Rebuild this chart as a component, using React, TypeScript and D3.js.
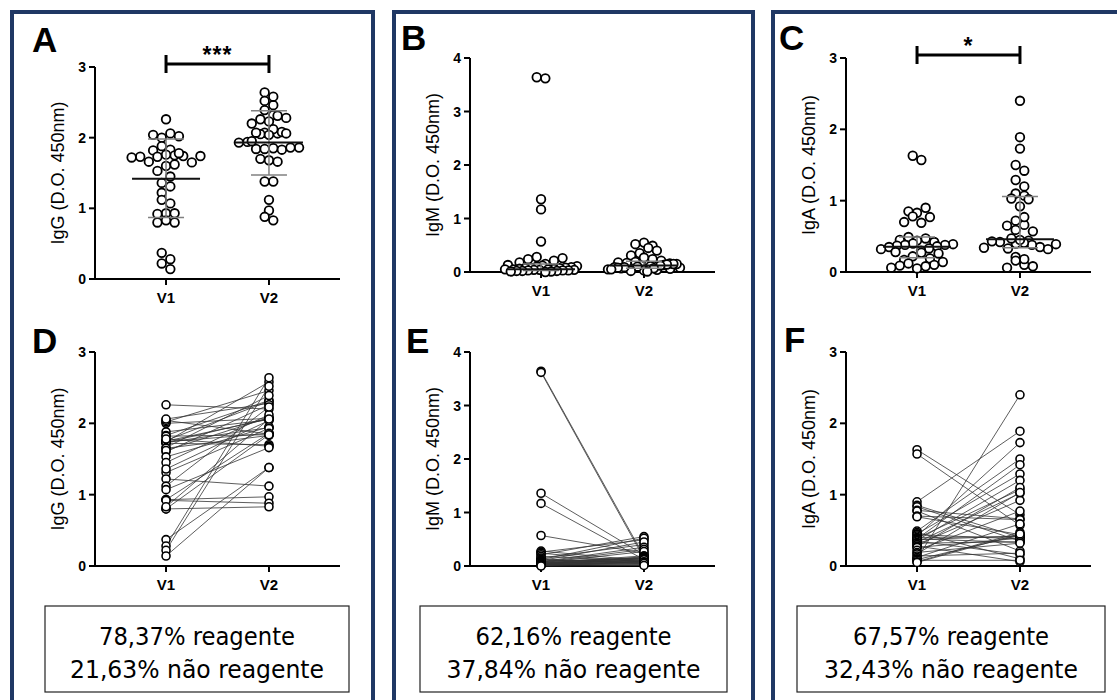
import React from "react";
import * as d3 from "d3";

const groups = ["V1", "V2"];

// IgG optical density, paired by subject (same index = same subject)
const iggV1 = [2.26, 2.0, 2.02, 2.04, 2.06, 1.88, 1.83, 1.82, 1.74, 1.73, 1.75, 1.72, 1.76, 1.74, 1.73, 1.78, 1.66, 1.65, 1.6, 1.62, 1.53, 1.45, 1.31, 1.36, 1.22, 1.12, 1.07, 0.93, 0.93, 0.92, 0.8, 0.8, 0.83, 0.37, 0.28, 0.22, 0.14];
const iggV2 = [2.2, 2.07, 2.46, 1.85, 2.28, 2.05, 2.32, 1.84, 2.58, 1.94, 2.06, 1.7, 2.31, 1.86, 2.07, 1.68, 2.39, 1.83, 2.26, 2.08, 1.95, 2.12, 1.93, 2.04, 1.12, 2.23, 1.66, 0.97, 1.86, 0.88, 0.83, 1.84, 2.06, 1.38, 2.64, 2.52, 1.38];

// IgM
const igmV1 = [3.64, 3.62, 1.36, 1.17, 0.57, 0.28, 0.26, 0.24, 0.21, 0.18, 0.15, 0.13, 0.12, 0.11, 0.1, 0.09, 0.08, 0.08, 0.07, 0.07, 0.06, 0.06, 0.05, 0.05, 0.05, 0.04, 0.04, 0.04, 0.03, 0.03, 0.03, 0.02, 0.02, 0.02, 0.01, 0.01, 0.0];
const igmV2 = [0.18, 0.14, 0.21, 0.12, 0.24, 0.1, 0.49, 0.07, 0.55, 0.09, 0.4, 0.05, 0.52, 0.08, 0.45, 0.15, 0.35, 0.06, 0.31, 0.13, 0.27, 0.04, 0.19, 0.11, 0.17, 0.03, 0.16, 0.1, 0.15, 0.02, 0.14, 0.09, 0.12, 0.08, 0.07, 0.05, 0.01];

// IgA
const igaV1 = [1.63, 1.57, 0.9, 0.85, 0.83, 0.78, 0.77, 0.7, 0.69, 0.49, 0.47, 0.45, 0.44, 0.42, 0.4, 0.39, 0.38, 0.38, 0.37, 0.36, 0.35, 0.33, 0.32, 0.3, 0.28, 0.27, 0.26, 0.22, 0.19, 0.17, 0.14, 0.12, 0.1, 0.09, 0.08, 0.06, 0.05];
const igaV2 = [0.72, 0.57, 1.89, 0.4, 0.35, 0.66, 0.21, 0.65, 0.44, 1.5, 0.1, 1.29, 0.38, 1.73, 0.41, 1.07, 0.33, 1.42, 0.42, 1.2, 0.16, 1.02, 0.34, 0.92, 0.06, 1.1, 0.39, 0.77, 0.32, 1.03, 0.18, 0.59, 2.4, 0.43, 0.08, 0.47, 0.45];

// summary lines (centre, lower, upper) per group
const iggCenter = [1.42, 1.93];
const iggLow = [0.87, 1.47];
const iggHigh = [1.98, 2.38];
const igmCenter = [0.05, 0.12];
const igmLow = [0.03, 0.07];
const igmHigh = [0.15, 0.2];
const igaCenter = [0.355, 0.46];
const igaLow = [0.2, 0.34];
const igaHigh = [0.49, 1.06];

const reagente = ["78,37%", "62,16%", "67,57%"];
const naoReagente = ["21,63%", "37,84%", "32,43%"];

const FONT = "'Liberation Sans', Arial, sans-serif";
const NAVY = "#203864";

const tops = [
  { letter: "A", lx: 32, ly: 52, ig: "IgG", v1: iggV1, v2: iggV2, max: 3, ax: 95, y0: 279, y1: 67, c: iggCenter, lo: iggLow, hi: iggHigh, sig: "***", barY: 64 },
  { letter: "B", lx: 401, ly: 50, ig: "IgM", v1: igmV1, v2: igmV2, max: 4, ax: 470, y0: 272, y1: 58, c: igmCenter, lo: igmLow, hi: igmHigh, sig: null, barY: 0 },
  { letter: "C", lx: 779, ly: 50, ig: "IgA", v1: igaV1, v2: igaV2, max: 3, ax: 846, y0: 272, y1: 58, c: igaCenter, lo: igaLow, hi: igaHigh, sig: "*", barY: 55 },
];
const bottoms = [
  { letter: "D", lx: 32, ly: 353, ig: "IgG", v1: iggV1, v2: iggV2, max: 3, ax: 95, y0: 566, y1: 352 },
  { letter: "E", lx: 406, ly: 353, ig: "IgM", v1: igmV1, v2: igmV2, max: 4, ax: 470, y0: 566, y1: 352 },
  { letter: "F", lx: 784, ly: 352, ig: "IgA", v1: igaV1, v2: igaV2, max: 3, ax: 846, y0: 566, y1: 352 },
];

// GraphPad-like row scatter: points in the same band spread sideways
function swarm(values: number[], y: (v: number) => number, maxHalf = 36, spacing = 8.6, band = 8) {
  const order = values.map((_, i) => i).sort((a, b) => values[a] - values[b]);
  const off = new Array(values.length).fill(0);
  let row: number[] = [];
  let start: number | null = null;
  const flush = () => {
    const n = row.length;
    const s = n > 1 ? Math.min(spacing, (2 * maxHalf) / (n - 1)) : 0;
    // scramble order inside a row so rows don't look like ramps
    row.sort((a, b) => ((a * 17) % 37) - ((b * 17) % 37)).forEach((id, k) => (off[id] = (k - (n - 1) / 2) * s));
    row = [];
  };
  order.forEach((i) => {
    const py = y(values[i]);
    if (start === null || start - py > band) {
      flush();
      start = py;
    }
    row.push(i);
  });
  flush();
  return off;
}

function Axes({ p, x, y }: any) {
  const ticks = y.ticks(p.max);
  return (
    <g fontFamily={FONT} fontWeight="bold">
      <line x1={p.ax} x2={p.ax} y1={p.y0} y2={p.y1} stroke="#000" strokeWidth={2} />
      <line x1={p.ax - 1} x2={p.ax + 245} y1={p.y0} y2={p.y0} stroke="#000" strokeWidth={2} />
      {ticks.map((t: number) => (
        <g key={t}>
          <line x1={p.ax - 6} x2={p.ax} y1={y(t)} y2={y(t)} stroke="#000" strokeWidth={2} />
          <text x={p.ax - 9} y={y(t)} dy="0.36em" textAnchor="end" fontSize={14}>{t}</text>
        </g>
      ))}
      {groups.map((g) => (
        <g key={g}>
          <line x1={x(g)} x2={x(g)} y1={p.y0} y2={p.y0 + 6} stroke="#000" strokeWidth={2} />
          <text x={x(g)} y={p.y0 + 24} textAnchor="middle" fontSize={15}>{g}</text>
        </g>
      ))}
      <text
        transform={`translate(${p.ax - 37},${(p.y0 + p.y1) / 2}) rotate(-90)`}
        dy="0.35em"
        textAnchor="middle"
        fontSize={18}
        fontWeight="normal"
      >
        {`${p.ig} (D.O. 450nm)`}
      </text>
      <text x={p.lx} y={p.ly} fontSize={35}>{p.letter}</text>
    </g>
  );
}

function ScatterPanel({ p }: any) {
  const y = d3.scaleLinear().domain([0, p.max]).range([p.y0, p.y1]);
  const x = d3.scalePoint<string>().domain(groups).range([p.ax, p.ax + 245]).padding(0.69);
  const sets = [p.v1, p.v2];
  return (
    <g>
      <Axes p={p} x={x} y={y} />
      {sets.map((vals: number[], gi: number) => {
        const off = swarm(vals, y);
        const cx = x(groups[gi]) as number;
        return (
          <g key={gi}>
            {vals.map((v, i) => (
              <circle key={i} cx={cx + off[i]} cy={y(v)} r={4.3} fill="#fff" stroke="#000" strokeWidth={1.8} />
            ))}
            <line x1={cx} x2={cx} y1={y(p.lo[gi])} y2={y(p.hi[gi])} stroke="#808080" strokeWidth={1.5} />
            <line x1={cx - 18} x2={cx + 18} y1={y(p.lo[gi])} y2={y(p.lo[gi])} stroke="#808080" strokeWidth={1.5} />
            <line x1={cx - 18} x2={cx + 18} y1={y(p.hi[gi])} y2={y(p.hi[gi])} stroke="#808080" strokeWidth={1.5} />
            <line x1={cx - 34} x2={cx + 34} y1={y(p.c[gi])} y2={y(p.c[gi])} stroke="#111" strokeWidth={2} />
          </g>
        );
      })}
      {p.sig && (
        <g stroke="#000" strokeWidth={3}>
          <line x1={x("V1")} x2={x("V2")} y1={p.barY} y2={p.barY} />
          <line x1={x("V1")} x2={x("V1")} y1={p.barY - 9} y2={p.barY + 9} />
          <line x1={x("V2")} x2={x("V2")} y1={p.barY - 9} y2={p.barY + 9} />
          <text
            x={((x("V1") as number) + (x("V2") as number)) / 2}
            y={p.barY - 1}
            textAnchor="middle"
            fontFamily={FONT}
            fontWeight="bold"
            fontSize={23}
            stroke="none"
            letterSpacing={1}
          >
            {p.sig}
          </text>
        </g>
      )}
    </g>
  );
}

function PairedPanel({ p }: any) {
  const y = d3.scaleLinear().domain([0, p.max]).range([p.y0, p.y1]);
  const x = d3.scalePoint<string>().domain(groups).range([p.ax, p.ax + 245]).padding(0.69);
  const pairs = d3.zip(p.v1 as number[], p.v2 as number[]);
  return (
    <g>
      <Axes p={p} x={x} y={y} />
      {pairs.map(([a, b], i) => (
        <line key={i} x1={x("V1")} x2={x("V2")} y1={y(a)} y2={y(b)} stroke="#333" strokeWidth={0.8} />
      ))}
      {pairs.map(([a, b], i) => (
        <g key={"c" + i}>
          <circle cx={x("V1")} cy={y(a)} r={4} fill="#fff" stroke="#000" strokeWidth={1.6} />
          <circle cx={x("V2")} cy={y(b)} r={4} fill="#fff" stroke="#000" strokeWidth={1.6} />
        </g>
      ))}
    </g>
  );
}

const frames = [
  { x: 12, w: 361 },
  { x: 394, w: 359 },
  { x: 773, w: 362 },
];
const boxes = [
  { x: 45, w: 304 },
  { x: 420, w: 307 },
  { x: 797, w: 308 },
];

export default function App() {
  return (
    <div>
      <style>{`body{margin:0;background:#fff}`}</style>
      <svg width={1117} height={700} style={{ display: "block" }}>
        <rect width={1117} height={700} fill="#fff" />
        {frames.map((f, i) => (
          <rect key={i} x={f.x} y={12} width={f.w} height={720} fill="none" stroke={NAVY} strokeWidth={4} />
        ))}
        {tops.map((p) => (
          <ScatterPanel key={p.letter} p={p} />
        ))}
        {bottoms.map((p) => (
          <PairedPanel key={p.letter} p={p} />
        ))}
        {boxes.map((b, i) => (
          <g key={i} fontFamily="'Liberation Sans Narrow', 'DejaVu Sans Condensed', sans-serif" fontSize={25}>
            <rect x={b.x} y={606} width={b.w} height={86} fill="#fff" stroke="#222" strokeWidth={1.2} />
            <text x={b.x + b.w / 2} y={645} textAnchor="middle" textLength={196} lengthAdjust="spacingAndGlyphs">
              {`${reagente[i]} reagente`}
            </text>
            <text x={b.x + b.w / 2} y={678} textAnchor="middle" textLength={254} lengthAdjust="spacingAndGlyphs">
              {`${naoReagente[i]} não reagente`}
            </text>
          </g>
        ))}
      </svg>
    </div>
  );
}
